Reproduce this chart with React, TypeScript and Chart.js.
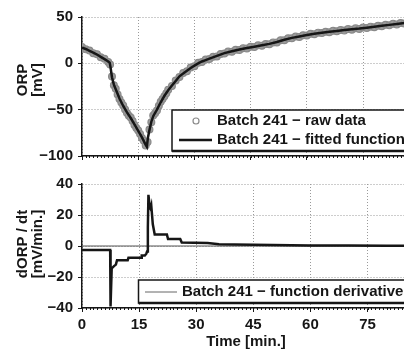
import React, { useEffect, useRef } from "react";
import { Chart, registerables } from "chart.js";

Chart.register(...registerables);

// ---------- data ----------
const rawTime = [
  0, 1, 2, 3, 4, 5, 6, 7, 7.5, 8, 8.5, 9, 9.5, 10, 10.5, 11, 11.5, 12, 12.5, 13, 13.5, 14, 14.5, 15, 15.5, 16, 16.5, 17, 17.5, 18, 18.5, 19, 19.5, 20, 20.5, 21, 21.5, 22, 22.5,
  23, 24, 25, 26, 27, 28, 29, 30, 31, 32, 33, 34, 35, 36, 37, 38, 39, 40, 41, 42, 43, 44, 45, 46, 47, 48, 49, 50, 51, 52, 53, 54, 55,
  56, 57, 58, 59, 60, 61, 62, 63, 64, 65, 66, 67, 68, 69, 70, 71, 72, 73, 74, 75, 76, 77, 78, 79, 80, 81, 82, 83, 84, 85, 86, 87, 88,
];
const rawOrp = [
  17.6, 15.1, 13.9, 11.0, 9.9, 6.6, 4.9, 1.5, -1.2, -14.2, -23.6, -27.4, -33.5, -38.6, -42.4, -45.4, -49.8, -53.6, -56.5, -58.5, -62.2, -66.6, -69.8, -72.4, -76.3, -80.5, -83.6, -88.6, -85, -71.4, -63.5, -56.4, -53.8, -50.8, -45.9, -41.5, -38.5, -35.6, -32.4,
  -28.4, -24.5, -18.6, -14.8, -10.4, -8.6, -4.5, -3.1, 0.6, 1.4, 4.1, 4.6, 7.1, 7.5, 10.1, 10.6, 12.7, 12.5, 14.6, 14.4, 16.4, 16, 17.9, 17.5, 19.4, 19, 20.8, 20.5, 22.6, 22.5, 24.9, 25, 27.1,
  27, 28.9, 28.5, 30.3, 30, 31.9, 31.5, 33.1, 32.6, 34, 33.5, 35.1, 34.6, 36, 35.5, 37, 36.3, 37.8, 37.1, 38.6, 38, 39.6, 39, 40.6, 40, 41.6, 41, 42.6, 42, 43.6, 43, 44.4, 43.6,
];

const fitTime = [
  0, 1, 2, 3, 4, 5, 6, 7, 7.4, 7.6, 8, 8.5, 9, 10, 11, 12, 13, 14, 15, 16, 17, 17.3, 17.6, 18, 18.5, 19, 20, 21, 22, 23, 24, 25, 26, 27, 28, 29, 30,
  31, 32, 33, 34, 36, 38, 40, 42, 44, 46, 48, 50, 52, 54, 56, 58, 60, 62, 64, 66, 68, 70, 72, 74, 76, 78, 80, 82, 84, 86, 88,
];
const fitOrp = [
  17, 15.5, 13.5, 11.5, 9.5, 7, 4.5, 2, 0.5, -4, -15, -23, -28, -38, -46, -53, -59, -66, -73, -80, -88, -90, -80, -72, -63, -57, -50, -42, -35, -29, -24, -19, -14, -11, -8, -5, -2.5,
  0, 2, 3.5, 5, 8, 11, 13, 15, 16.5, 18, 19.5, 21, 23, 25.5, 27.5, 29, 30.5, 32, 33, 34, 35, 36, 36.8, 37.5, 38.5, 39.5, 40.5, 41.5, 42.5, 43.5, 44,
];

const derTime = [
  0, 7.4, 7.5, 7.8, 8.4, 8.9, 9.2, 12.0, 12.2, 15.5, 15.7, 16.5, 16.9, 17.1, 17.3, 17.45, 17.8, 18.0, 18.2, 18.6, 19.1, 22.3, 22.6, 25.8, 26.2, 33, 36, 40, 50, 60, 70, 80, 88,
];
const derValue = [
  -2.5, -2.5, -39, -14.5, -13, -12, -9.2, -9.2, -7.6, -7.6, -6.2, -6.2, -5, -3.5, 12, 33, 25, 24, 26, 14, 7.5, 7.5, 4.5, 4.5, 2.2, 2, 1.2, 0.9, 0.6, 0.4, 0.3, 0.2, 0.1,
];

const zeroTime = [0, 88];
const zeroValue = [0, 0];

const orpTicks = [-100, -50, 0, 50];
const derTicks = [-40, -20, 0, 20, 40];
const timeTicks = [0, 15, 30, 45, 60, 75];

const topLegend = ["Batch 241 \u2212 raw data", "Batch 241 \u2212 fitted function"];
const bottomLegend = ["Batch 241 \u2212 function derivative"];
const topYTitle = ["ORP", "[mV]"];
const bottomYTitle = ["dORP / dt", "[mV/min.]"];
const xTitle = "Time [min.]";

const X_MIN = 0;
const X_MAX = 88;

// ---------- style ----------
const FONT = '"Liberation Sans", Arial, Helvetica, sans-serif';
const INK = "#161616";
const GRID = "#9a9a9a";
const RAW = "#8a8a8a";
const RAW_FILL = "#9c9c9c";

const pts = (xs: number[], ys: number[]) => xs.map((x, i) => ({ x, y: ys[i] }));

const decorPlugin = {
  id: "decor",
  afterDatasetsDraw(chart: any, _args: any, opts: any) {
    const ctx = chart.ctx as CanvasRenderingContext2D;
    const xs = chart.scales.x;
    const area = chart.chartArea;
    ctx.save();
    // minor ticks on x axis
    ctx.strokeStyle = INK;
    ctx.lineWidth = 1;
    ctx.beginPath();
    for (let v = X_MIN; v <= X_MAX; v += 1) {
      const px = Math.round(xs.getPixelForValue(v)) + 0.5;
      ctx.moveTo(px, area.bottom);
      ctx.lineTo(px, area.bottom + 2);
    }
    ctx.stroke();

    ctx.fillStyle = INK;
    ctx.font = `bold 15px ${FONT}`;
    ctx.textBaseline = "middle";
    // y title
    ctx.save();
    ctx.translate(opts.yTitleX, opts.yTitleY);
    ctx.rotate(-Math.PI / 2);
    ctx.textAlign = "center";
    (opts.yTitle as string[]).forEach((t, i) => ctx.fillText(t, 0, i * 15));
    ctx.restore();

    // x title
    if (opts.xTitle) {
      ctx.textAlign = "center";
      ctx.fillText(opts.xTitle, opts.xTitleX, opts.xTitleY);
    }

    // legend box
    const L = opts.legend;
    ctx.fillStyle = "#ffffff";
    ctx.fillRect(L.x, L.y, L.w, L.h);
    ctx.strokeStyle = INK;
    ctx.lineWidth = 1.5;
    ctx.strokeRect(L.x, L.y, L.w, L.h);
    ctx.lineWidth = 2.5;
    ctx.beginPath();
    ctx.moveTo(L.x, L.y + L.h);
    ctx.lineTo(L.x + L.w, L.y + L.h);
    ctx.stroke();

    (L.items as any[]).forEach((it) => {
      if (it.kind === "circle") {
        ctx.strokeStyle = RAW;
        ctx.lineWidth = 1.2;
        ctx.beginPath();
        ctx.arc(it.mx, it.y, 3, 0, Math.PI * 2);
        ctx.stroke();
      } else {
        ctx.strokeStyle = it.color;
        ctx.lineWidth = it.width;
        ctx.beginPath();
        ctx.moveTo(it.x1, it.y);
        ctx.lineTo(it.x2, it.y);
        ctx.stroke();
      }
      ctx.fillStyle = INK;
      ctx.textAlign = "left";
      ctx.fillText(it.text, it.tx, it.y);
    });
    ctx.restore();
  },
};

function makeOptions(cfg: any) {
  return {
    animation: false,
    responsive: false,
    maintainAspectRatio: false,
    layout: { padding: { top: cfg.padTop, left: 0, right: 0, bottom: 0 } },
    plugins: {
      legend: { display: false },
      tooltip: { enabled: false },
      decor: cfg.decor,
    },
    scales: {
      x: {
        type: "linear",
        min: X_MIN,
        max: X_MAX,
        afterBuildTicks: (s: any) => {
          s.ticks = timeTicks.map((v) => ({ value: v }));
        },
        afterFit: (s: any) => {
          s.height = cfg.xHeight;
        },
        ticks: {
          display: cfg.xLabels,
          color: INK,
          padding: 4,
          maxRotation: 0,
          autoSkip: false,
          font: { family: FONT, size: 15, weight: "bold" },
        },
        grid: {
          color: GRID,
          lineWidth: 1,
          drawTicks: true,
          tickLength: 4,
          tickColor: INK,
          tickWidth: 1,
        },
        border: { display: true, color: INK, width: 1.5, dash: [1, 2] },
      },
      y: {
        type: "linear",
        min: cfg.yMin,
        max: cfg.yMax,
        afterBuildTicks: (s: any) => {
          s.ticks = cfg.yTicks.map((v: number) => ({ value: v }));
        },
        afterFit: (s: any) => {
          s.width = 82;
        },
        ticks: {
          color: INK,
          padding: 5,
          autoSkip: false,
          font: { family: FONT, size: 15, weight: "bold" },
          callback: (v: number) => (v < 0 ? "\u2212" + Math.abs(v) : String(v)),
        },
        grid: {
          color: GRID,
          lineWidth: 1,
          drawTicks: true,
          tickLength: 4,
          tickColor: INK,
          tickWidth: 1,
        },
        border: { display: true, color: INK, width: 1.5, dash: [1, 2] },
      },
    },
  };
}

function TopChart() {
  const ref = useRef<HTMLCanvasElement>(null);
  useEffect(() => {
    const chart = new Chart(ref.current as HTMLCanvasElement, {
      type: "scatter",
      data: {
        datasets: [
          {
            data: pts(fitTime, fitOrp),
            showLine: true,
            borderColor: INK,
            borderWidth: 2.5,
            pointRadius: 0,
            tension: 0,
            order: 1,
          },
          {
            data: pts(rawTime, rawOrp),
            showLine: false,
            pointRadius: 3.4,
            pointBorderWidth: 1.2,
            pointBorderColor: RAW,
            pointBackgroundColor: RAW_FILL,
            order: 2,
          },
        ],
      },
      options: makeOptions({
        padTop: 17,
        xHeight: 14,
        xLabels: false,
        yMin: -100,
        yMax: 50,
        yTicks: orpTicks,
        decor: {
          yTitle: topYTitle,
          yTitleX: 23,
          yTitleY: 80,
          legend: {
            x: 172,
            y: 110,
            w: 242,
            h: 41,
            items: [
              { kind: "circle", mx: 196, y: 121, text: topLegend[0], tx: 217 },
              { kind: "line", x1: 179, x2: 212, y: 140, color: INK, width: 2.5, text: topLegend[1], tx: 217 },
            ],
          },
        },
      }) as any,
      plugins: [decorPlugin as any],
    });
    return () => chart.destroy();
  }, []);
  return <canvas ref={ref} width={417} height={170} style={{ position: "absolute", left: 0, top: 0, width: 417, height: 170 }} />;
}

function BottomChart() {
  const ref = useRef<HTMLCanvasElement>(null);
  useEffect(() => {
    const chart = new Chart(ref.current as HTMLCanvasElement, {
      type: "scatter",
      data: {
        datasets: [
          {
            data: pts(derTime, derValue),
            showLine: true,
            borderColor: INK,
            borderWidth: 2.5,
            pointRadius: 0,
            tension: 0,
            order: 1,
          },
          {
            data: pts(zeroTime, zeroValue),
            showLine: true,
            borderColor: "#555555",
            borderWidth: 1,
            pointRadius: 0,
            order: 2,
          },
        ],
      },
      options: makeOptions({
        padTop: 11,
        xHeight: 41,
        xLabels: true,
        yMin: -40,
        yMax: 40,
        yTicks: derTicks,
        decor: {
          yTitle: bottomYTitle,
          yTitleX: 23,
          yTitleY: 74,
          xTitle: xTitle,
          xTitleX: 246,
          xTitleY: 172,
          legend: {
            x: 138.5,
            y: 110,
            w: 275,
            h: 23,
            items: [
              { kind: "line", x1: 145, x2: 177, y: 122, color: "#666666", width: 1, text: bottomLegend[0], tx: 182 },
            ],
          },
        },
      }) as any,
      plugins: [decorPlugin as any],
    });
    return () => chart.destroy();
  }, []);
  return <canvas ref={ref} width={417} height={179} style={{ position: "absolute", left: 0, top: 170, width: 417, height: 179 }} />;
}

export default function App() {
  return (
    <div style={{ position: "fixed", left: 0, top: 0, width: 404, height: 349, overflow: "hidden", background: "#ffffff" }}>
      <TopChart />
      <BottomChart />
    </div>
  );
}
